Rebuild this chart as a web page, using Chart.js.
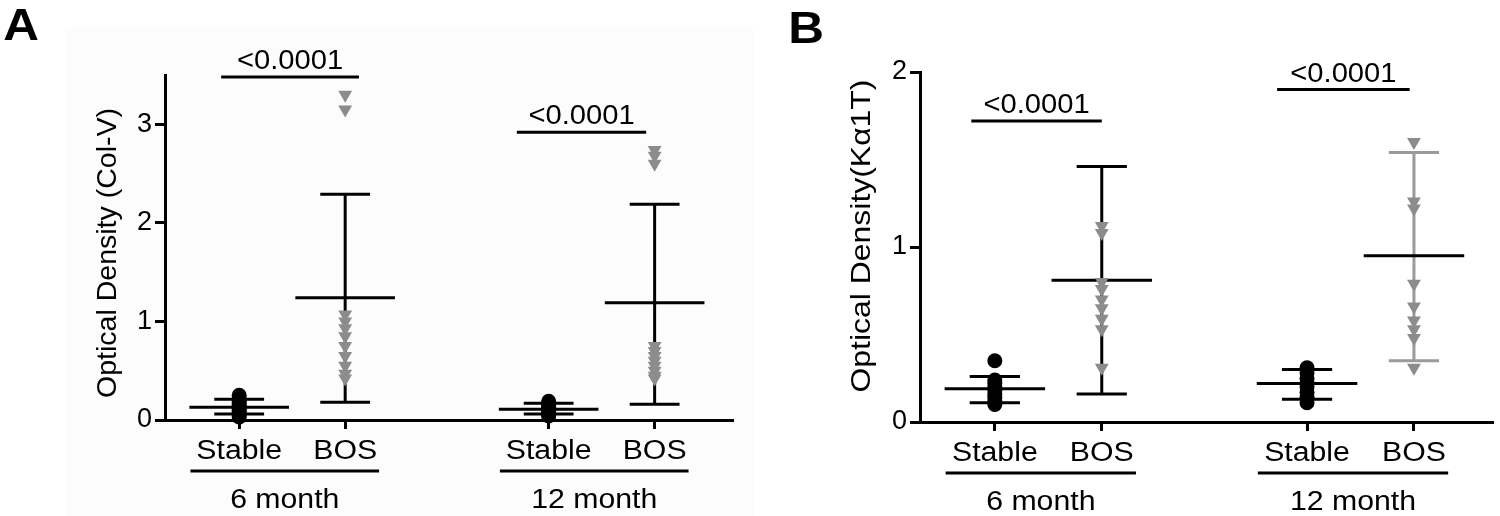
<!DOCTYPE html>
<html><head><meta charset="utf-8">
<script src="https://cdn.jsdelivr.net/npm/chart.js@4.4.0/dist/chart.umd.min.js"></script>
<style>
html,body{margin:0;padding:0;background:#fff;}
#wrap{position:relative;width:1500px;height:516px;overflow:hidden;}
#bgA{position:absolute;left:65px;top:27px;width:688px;height:489px;background:#fcfcfc;}
#cA{position:absolute;left:0;top:0;}
#cB{position:absolute;left:750px;top:0;}
</style></head><body>
<div id="wrap"><div id="bgA"></div><canvas id="cA" width="750" height="516"></canvas><canvas id="cB" width="750" height="516"></canvas></div>
<script>
// ---- data ----
const categories = ['Stable', 'BOS', 'Stable', 'BOS'];
const groupLabels = ['6 month', '12 month'];
const xPositions = [1, 2, 3.92, 4.92];
const yTicksA = [0, 1, 2, 3];
const yTicksB = [0, 1, 2];
const titleA = 'Optical Density (Col-V)';
const titleB = 'Optical Density(K\u03B11T)';
const sigLabel = '<0.0001';

// Panel A
const aStable6 = [0.25, 0.22, 0.19, 0.17, 0.15, 0.13, 0.11, 0.09, 0.07, 0.05, 0.03];
const aBos6 = [3.30, 3.15, 1.07, 1.00, 0.93, 0.85, 0.75, 0.65, 0.55, 0.47, 0.42];
const aStable12 = [0.19, 0.17, 0.15, 0.13, 0.11, 0.09, 0.07, 0.05, 0.04];
const aBos12 = [2.74, 2.68, 2.60, 0.75, 0.70, 0.65, 0.60, 0.55, 0.50, 0.45, 0.42];
const aMean = [0.13, 1.24, 0.11, 1.19];
const aSdLow = [0.06, 0.18, 0.06, 0.16];
const aSdHigh = [0.21, 2.29, 0.17, 2.19];
const aSigY = [3.48, 2.92];
const aSigFrom = [0.83, 3.62];
const aSigTo = [2.13, 4.84];

// Panel B
const bStable6 = [0.35, 0.24, 0.22, 0.20, 0.18, 0.16, 0.14, 0.12, 0.10];
const bBos6 = [1.12, 1.08, 0.80, 0.76, 0.70, 0.65, 0.59, 0.53, 0.31];
const bStable12 = [0.31, 0.28, 0.25, 0.22, 0.20, 0.17, 0.14, 0.11];
const bBos12 = [1.60, 1.26, 1.22, 0.79, 0.66, 0.58, 0.53, 0.48, 0.31];
const bMean = [0.19, 0.81, 0.22, 0.95];
const bSdLow = [0.11, 0.16, 0.13, 0.35];
const bSdHigh = [0.26, 1.46, 0.30, 1.54];
const bSigY = [1.72, 1.90];
const bSigFrom = [0.78, 3.64];
const bSigTo = [2.00, 4.88];

// ---- styles ----
const BLACK = '#000000';
const GRAY = '#8c8c8c';
const GRAY_BAR = '#9a9a9a';
const FONT = '"Liberation Sans", Arial, Helvetica, sans-serif';
const MEAN_HALF = 0.47, CAP_HALF = 0.235;
const SX = 1.12;

function seg(x1, y1, x2, y2, color, order) {
  return { data: [{x: x1, y: y1}, {x: x2, y: y2}], showLine: true, borderColor: color,
    borderWidth: 3, pointRadius: 0, fill: false, tension: 0, clip: false, order: order,
    borderCapStyle: 'butt' };
}

function buildDatasets(points, mean, lo, hi, sigY, sigFrom, sigTo, barColors) {
  const ds = [];
  points.forEach((vals, i) => {
    const bos = i % 2 === 1;
    ds.push({ data: vals.map(v => ({x: xPositions[i], y: v})),
      pointStyle: bos ? 'triangle' : 'circle', rotation: bos ? 180 : 0,
      pointRadius: bos ? 8 : 7.5, backgroundColor: bos ? GRAY : BLACK,
      borderColor: bos ? GRAY : BLACK, borderWidth: 0, order: 0, clip: false });
  });
  mean.forEach((m, i) => {
    const x = xPositions[i];
    ds.push(seg(x - MEAN_HALF, m, x + MEAN_HALF, m, BLACK, 1));
    ds.push(seg(x, lo[i], x, hi[i], barColors[i], 2));
    ds.push(seg(x - CAP_HALF, lo[i], x + CAP_HALF, lo[i], barColors[i], 2));
    ds.push(seg(x - CAP_HALF, hi[i], x + CAP_HALF, hi[i], barColors[i], 2));
  });
  sigY.forEach((y, i) => ds.push(seg(sigFrom[i], y, sigTo[i], y, BLACK, 1)));
  return ds;
}

function hText(ctx, text, cx, base, size, sx, bold) {
  ctx.save();
  ctx.font = (bold ? 'bold ' : '') + size + 'px ' + FONT;
  ctx.textAlign = 'center'; ctx.textBaseline = 'alphabetic';
  ctx.translate(cx, base); ctx.scale(sx, 1);
  ctx.fillText(text, 0, 0);
  ctx.restore();
}

const annot = {
  id: 'annot',
  afterDraw(chart, args, o) {
    const {ctx, scales: {x, y}, chartArea} = chart;
    ctx.save();
    ctx.fillStyle = BLACK; ctx.strokeStyle = BLACK;
    const axisY = chartArea.bottom;
    categories.forEach((c, i) => hText(ctx, c, x.getPixelForValue(xPositions[i]), axisY + 39, 27, SX));
    groupLabels.forEach((g, gi) => {
      const s = x.getPixelForValue(xPositions[gi * 2] - 0.46);
      const e = x.getPixelForValue(xPositions[gi * 2 + 1] + 0.32);
      ctx.lineWidth = 3;
      ctx.beginPath(); ctx.moveTo(s, axisY + 51); ctx.lineTo(e, axisY + 51); ctx.stroke();
      hText(ctx, g, (s + e) / 2, axisY + 88, 27, SX);
    });
    o.sigY.forEach((sy, i) => {
      const cx = (x.getPixelForValue(o.sigFrom[i]) + x.getPixelForValue(o.sigTo[i])) / 2;
      hText(ctx, sigLabel, cx, y.getPixelForValue(sy) - 8, 27, 1.08);
    });
    // y title
    ctx.save();
    ctx.font = '28px ' + FONT;
    const w = ctx.measureText(o.title).width;
    ctx.translate(o.titleX, o.titleY); ctx.rotate(-Math.PI / 2);
    ctx.scale(o.titleLen / w, 1);
    ctx.textAlign = 'center'; ctx.textBaseline = 'middle';
    ctx.fillText(o.title, 0, 0);
    ctx.restore();
    hText(ctx, o.letter, o.letterX, o.letterY, 45, 1.1, true);
    ctx.restore();
  }
};

function makeChart(id, datasets, yMax, yTicks, yWidth, pad, xHeight, extra) {
  return new Chart(document.getElementById(id), {
    type: 'scatter',
    data: { datasets: datasets },
    plugins: [annot],
    options: {
      responsive: false, animation: false, events: [],
      layout: { padding: pad },
      plugins: { legend: {display: false}, tooltip: {enabled: false}, annot: extra },
      scales: {
        x: { type: 'linear', min: 0.3, max: 5.65,
          afterBuildTicks: s => { s.ticks = xPositions.map(v => ({value: v})); },
          ticks: { display: false },
          grid: { display: true, drawOnChartArea: false, drawTicks: true, tickLength: 9, color: BLACK, lineWidth: 3 },
          border: { display: true, color: BLACK, width: 3 },
          afterFit: s => { s.height = xHeight; } },
        y: { type: 'linear', min: 0, max: yMax,
          afterBuildTicks: s => { s.ticks = yTicks.map(v => ({value: v})); },
          ticks: { color: BLACK, font: { family: FONT, size: 27 }, padding: 3, callback: v => String(v) },
          grid: { display: true, drawOnChartArea: false, drawTicks: true, tickLength: 10, color: BLACK, lineWidth: 3 },
          border: { display: true, color: BLACK, width: 3 },
          afterFit: s => { s.width = yWidth; } }
      }
    }
  });
}

makeChart('cA',
  buildDatasets([aStable6, aBos6, aStable12, aBos12], aMean, aSdLow, aSdHigh, aSigY, aSigFrom, aSigTo, [BLACK, BLACK, BLACK, BLACK]),
  3.5, yTicksA, 165, {left: 0, top: 75, right: 18, bottom: 0}, 96,
  { sigY: aSigY, sigFrom: aSigFrom, sigTo: aSigTo, title: titleA, titleX: 108, titleY: 253, titleLen: 290, letter: 'A', letterX: 21, letterY: 40 });

makeChart('cB',
  buildDatasets([bStable6, bBos6, bStable12, bBos12], bMean, bSdLow, bSdHigh, bSigY, bSigFrom, bSigTo, [BLACK, BLACK, BLACK, GRAY_BAR]),
  2, yTicksB, 170, {left: 0, top: 72, right: 5, bottom: 0}, 94,
  { sigY: bSigY, sigFrom: bSigFrom, sigTo: bSigTo, title: titleB, titleX: 112, titleY: 236, titleLen: 313, letter: 'B', letterX: 56, letterY: 43 });
</script>
</body></html>
